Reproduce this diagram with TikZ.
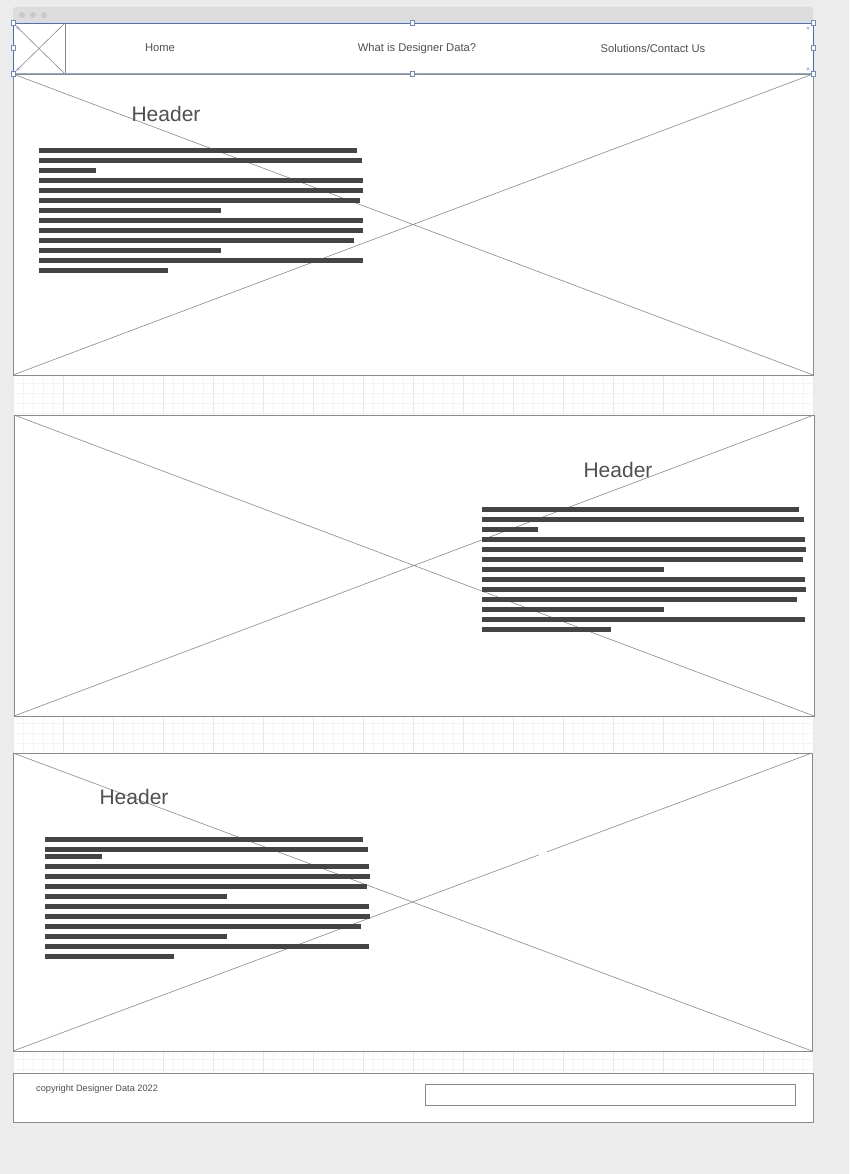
\documentclass[tikz,border=0pt]{standalone}
\usepackage{fontspec}
\setmainfont{Liberation Sans}
\definecolor{bg}{HTML}{ECECEC}
\definecolor{chrome}{HTML}{DCDCDC}
\definecolor{dotc}{HTML}{C8C8C8}
\definecolor{gridminor}{HTML}{F4F4F4}
\definecolor{gridmajor}{HTML}{E8E8E8}
\definecolor{panelc}{HTML}{8A8A8A}
\definecolor{barc}{HTML}{444444}
\definecolor{txt}{HTML}{505050}
\definecolor{selblue}{HTML}{4A6CC4}
\definecolor{selline}{HTML}{8FAAE8}
\begin{document}
\begin{tikzpicture}[x=1pt,y=-1pt,
  panel/.style={draw=panelc,line width=0.8pt,fill=white},
  diag/.style={draw=panelc,line width=0.6pt},
  bar/.style={fill=barc},
  hdr/.style={text=txt,font=\fontsize{21}{24}\selectfont,inner sep=0pt},
  navtxt/.style={text=txt,font=\fontsize{11.2}{13}\selectfont,inner sep=0pt,anchor=base},
  smalltxt/.style={text=txt,font=\fontsize{9.2}{11}\selectfont,inner sep=0pt},
  handle/.style={draw=selblue!80,fill=white,line width=0.6pt},
  gminor/.style={draw=gridminor,line width=0.5pt},
  gmajor/.style={draw=gridmajor,line width=0.5pt}]
\useasboundingbox (0,0) rectangle (849,1174);
\fill[bg] (0,0) rectangle (849,1174);
% grid gaps
\foreach \ya/\yb in {375/415,716/753,1051/1073}{
  \fill[white] (13,\ya) rectangle (813,\yb);
  \foreach \x in {13,23,...,813} \draw[gminor] (\x,\ya) -- (\x,\yb);
  \foreach \x in {13,63,...,813} \draw[gmajor] (\x,\ya) -- (\x,\yb);
}
\foreach \y in {383,393,403,413,723,733,743,1059,1069} \draw[gminor] (13,\y) -- (813,\y);
% browser chrome
\fill[chrome,rounded corners=3pt] (13,7) rectangle (813,26);
\foreach \x in {22,33,44} \fill[dotc] (\x,15) circle (2.8);
% nav bar
\node[draw=none,fill=white,minimum width=800pt,minimum height=51pt,inner sep=0pt,anchor=north west] (nav) at (13,23) {};
\draw[panelc,line width=0.6pt] (13,23) rectangle (65,74);
\coordinate (la) at (13,23); \coordinate (lb) at (65,74);
\coordinate (lc) at (65,23); \coordinate (ld) at (13,74);
\draw[diag] (la) -- (lb) (lc) -- (ld);
\node[navtxt] (home) at (160,52) {Home};
\node[navtxt] (what) at (417,52) {What is Designer Data?};
\node[navtxt] (sol) at (653,53) {Solutions/Contact Us};
% panel 1
\draw[panel] (13,74) rectangle (813,375);
\coordinate (p1a) at (13,74); \coordinate (p1b) at (813,375);
\coordinate (p1c) at (813,74); \coordinate (p1d) at (13,375);
\draw[diag] (p1a) -- (p1b) (p1c) -- (p1d);
\node[hdr] (h1) at (166,114) {Header};
\foreach \e [count=\i from 0] in {357,362,96,363,363,360,221,363,363,354,221,363,168}
  \fill[bar] (39,{148+10*\i}) rectangle (\e,{153+10*\i});
% panel 2
\draw[panel] (14,415) rectangle (814,716);
\coordinate (p2a) at (14,415); \coordinate (p2b) at (814,716);
\coordinate (p2c) at (814,415); \coordinate (p2d) at (14,716);
\draw[diag] (p2a) -- (p2b) (p2c) -- (p2d);
\node[hdr] (h2) at (618,470) {Header};
\foreach \e [count=\i from 0] in {799,804,538,805,806,803,664,805,806,797,664,805,611}
  \fill[bar] (482,{507+10*\i}) rectangle (\e,{512+10*\i});
% panel 3
\draw[panel] (13,753) rectangle (812,1051);
\coordinate (p3a) at (13,753); \coordinate (p3b) at (812,1051);
\coordinate (p3c) at (812,753); \coordinate (p3d) at (13,1051);
\draw[diag] (p3a) -- (p3b) (p3c) -- (p3d);
\fill[white] (539,850) rectangle (547,857);
\node[hdr] (h3) at (134,797) {Header};
\foreach \t/\e in {837/363,847/368,854/102,864/369,874/370,884/367,894/227,904/369,914/370,924/361,934/227,944/369,954/174}
  \fill[bar] (45,\t) rectangle (\e,\t+5);
% footer
\draw[panel] (13,1073) rectangle (813,1122);
\node[smalltxt,anchor=west] (copy) at (36,1089.5) {copyright Designer Data 2022};
\draw[panel] (425,1084) rectangle (795,1105);
% selection outline of nav bar
\draw[selblue,line width=0.9pt] (13,74) -- (13,23) -- (813,23) -- (813,74);
\draw[selline,line width=1pt] (13,74) -- (813,74);
\foreach \p in {(13,23),(412,23),(813,23),(13,48),(813,48),(13,74),(412,74),(813,74)}
  \draw[handle] \p ++(-2.2,-2.2) rectangle ++(4.4,4.4);
\foreach \p in {(18,28),(808,28),(18,69),(808,69)}
  \draw[selblue!60,line width=0.5pt] \p circle (1.3);
\end{tikzpicture}
\end{document}
